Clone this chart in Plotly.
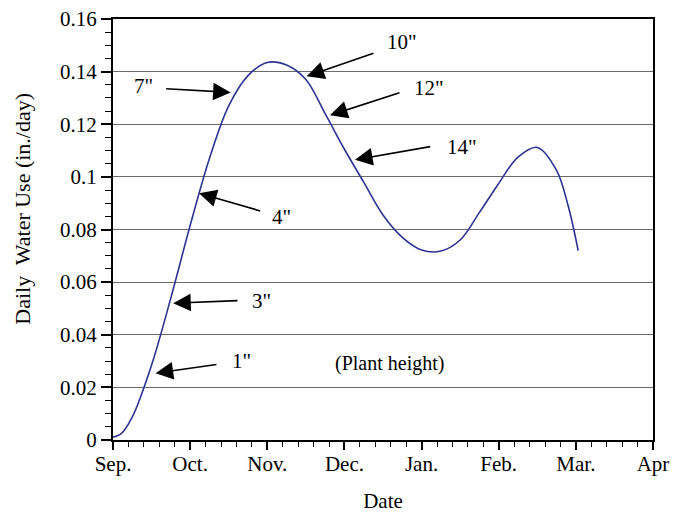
import plotly.graph_objects as go

# Data (months since Sep. 1 on an evenly spaced month axis)
months = [0.0, 0.10, 0.25, 0.5, 0.75, 1.0, 1.25, 1.5, 1.75, 2.0, 2.25, 2.5, 2.75, 3.0,
          3.25, 3.5, 3.75, 4.0, 4.25, 4.5, 4.75, 5.0, 5.25, 5.5, 5.75, 5.9, 6.03]
water_use = [0.0011, 0.0022, 0.0088, 0.0285, 0.054, 0.0815, 0.1070, 0.1270, 0.1385,
             0.1435, 0.1425, 0.1370, 0.1240, 0.1105, 0.0980, 0.0855, 0.0770, 0.0722,
             0.0718, 0.0760, 0.0865, 0.0975, 0.1075, 0.1112, 0.1025, 0.0890, 0.0720]

tick_vals = [0, 1, 2, 3, 4, 5, 6, 7]
tick_text = ["Sep.", "Oct.", "Nov.", "Dec.", "Jan.", "Feb.", "Mar.", "Apr"]
y_tick_vals = [0, 0.02, 0.04, 0.06, 0.08, 0.10, 0.12, 0.14, 0.16]
y_tick_text = ["0", "0.02", "0.04", "0.06", "0.08", "0.1", "0.12", "0.14", "0.16"]

# Plant-height labels: text, arrow tip (x, y), arrow tail (x, y), label (x, y)
height_labels = ['1"', '3"', '4"', '7"', '10"', '12"', '14"']
tip_x = [0.552, 0.780, 1.115, 1.526, 2.511, 2.813, 3.137]
tip_y = [0.0254, 0.0520, 0.0938, 0.1321, 0.1382, 0.1234, 0.1065]
tail_x = [1.361, 1.633, 1.928, 0.670, 3.396, 3.733, 4.131]
tail_y = [0.0288, 0.0530, 0.0869, 0.1335, 0.1472, 0.1322, 0.1116]
label_x = [1.66, 1.93, 2.19, 0.39, 3.74, 4.09, 4.52]
label_y = [0.0302, 0.0528, 0.0847, 0.1344, 0.1513, 0.1339, 0.1113]

FONT = "Liberation Serif"

fig = go.Figure()
fig.add_trace(go.Scatter(
    x=months, y=water_use, mode="lines",
    line=dict(color="#2d3394", width=1.6, shape="spline", smoothing=1.0),
    hoverinfo="skip", showlegend=False,
))

annotations = []
for t, tx, ty, ax, ay, lx, ly in zip(height_labels, tip_x, tip_y, tail_x, tail_y, label_x, label_y):
    annotations.append(dict(
        x=tx, y=ty, xref="x", yref="y", ax=ax, ay=ay, axref="x", ayref="y",
        text="", showarrow=True, arrowhead=2, arrowsize=2.2, arrowwidth=1.6,
        arrowcolor="black", standoff=0,
    ))
    annotations.append(dict(
        x=lx, y=ly, xref="x", yref="y", text=t, showarrow=False,
        font=dict(family=FONT, size=21, color="black"),
    ))
annotations.append(dict(
    x=3.59, y=0.0291, xref="x", yref="y", text="(Plant height)", showarrow=False,
    font=dict(family=FONT, size=20, color="black"),
))
# y-axis title
annotations.append(dict(
    x=-0.168, y=0.55, xref="paper", yref="paper", text="Daily  Water Use (in./day)",
    textangle=-90, showarrow=False, xanchor="center", yanchor="middle",
    font=dict(family=FONT, size=22, color="black"),
))

fig.update_layout(
    width=687, height=513,
    margin=dict(l=113, r=34, t=19, b=73),
    paper_bgcolor="white", plot_bgcolor="white",
    font=dict(family=FONT, size=21, color="black"),
    annotations=annotations,
    showlegend=False,
)
fig.update_xaxes(
    range=[0, 7], tickvals=tick_vals, ticktext=tick_text, automargin=False,
    ticks="outside", ticklen=8, tickwidth=1.5, tickcolor="black", ticklabelstandoff=-4,
    minor=dict(dtick=0.2, ticks="outside", ticklen=5, tickwidth=1.2, tickcolor="black"),
    showline=True, linecolor="black", linewidth=2, mirror=True,
    showgrid=False, zeroline=False,
    tickfont=dict(family=FONT, size=21),
    title=dict(text="Date", font=dict(family=FONT, size=21), standoff=22),
)
fig.update_yaxes(
    range=[0, 0.16], tickvals=y_tick_vals, ticktext=y_tick_text, automargin=False,
    ticks="outside", ticklen=10, tickwidth=1.5, tickcolor="black",
    minor=dict(dtick=0.005, ticks="outside", ticklen=6, tickwidth=1.2, tickcolor="black"),
    showline=True, linecolor="black", linewidth=2, mirror=True,
    showgrid=True, gridcolor="#6a6a6a", gridwidth=1.2, zeroline=False,
    tickfont=dict(family=FONT, size=21),
)

fig.write_html("out.html", config={"displayModeBar": False},
               post_script="document.body.style.margin='0px';")
